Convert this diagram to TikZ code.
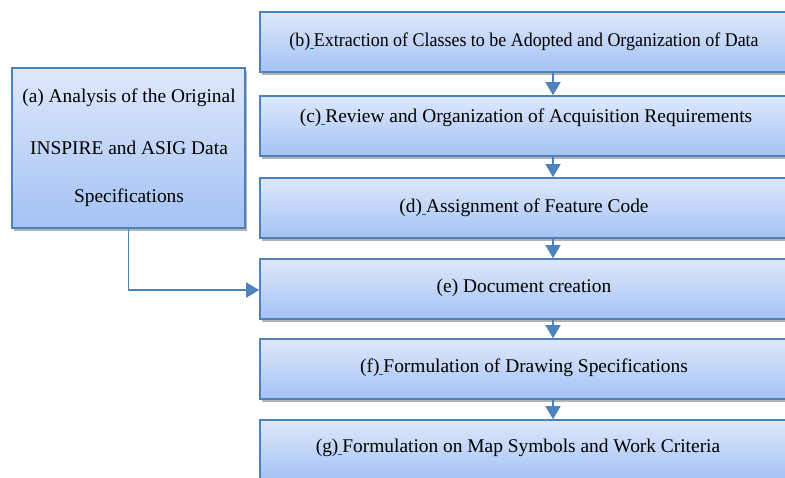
\documentclass[tikz,border=0pt]{standalone}
\usepackage{fontspec}
\setmainfont{Liberation Serif}
\usetikzlibrary{arrows.meta,shadows,calc}
\definecolor{bordblue}{RGB}{79,129,189}
\definecolor{topblue}{RGB}{222,232,251}
\definecolor{botblue}{RGB}{164,194,244}
\definecolor{linkteal}{RGB}{0,110,130}
\newcommand{\ulsp}{\textcolor{linkteal}{\underline{\hspace{4pt}}}}
\tikzset{
  boxstyle/.style={draw=bordblue, line width=1.6pt, top color=topblue, bottom color=botblue,
    drop shadow={shadow xshift=2pt, shadow yshift=-3pt, fill=black!55, opacity=0.55},
    inner sep=0pt},
  rbox/.style={boxstyle, minimum width=528pt, minimum height=60pt},
  lbox/.style={boxstyle, minimum width=233pt, minimum height=160pt},
  txt/.style={font=\fontsize{19.4}{22}\selectfont, text=black, inner sep=0pt},
  arr/.style={draw=bordblue, line width=1.6pt, -{Triangle[width=15pt,length=13pt]}}
}
\begin{document}
\begin{tikzpicture}[x=1pt,y=-1pt]
\useasboundingbox (0,0) rectangle (785,477);
\clip (0,0) rectangle (785,477);
\node[rbox] (b) at (524,42) {};
\node[rbox] (c) at (524,126) {};
\node[rbox] (d) at (524,208) {};
\node[rbox] (e) at (524,289) {};
\node[rbox] (f) at (524,369) {};
\node[rbox] (g) at (524,450) {};
\node[lbox] (a) at (128.5,148) {};
\node[txt] (ta1) at (129,98) {(a) Analysis of the Original};
\node[txt] (ta2) at (129,148) {INSPIRE and ASIG Data};
\node[txt] (ta3) at (129,198) {Specifications};
\node[txt] (tb) at (524,42) {\scalebox{0.925}[1]{(b)\ulsp Extraction of Classes to be Adopted and Organization of Data}};
\node[txt] (tc) at (526,118) {(c)\ulsp Review and Organization of Acquisition Requirements};
\node[txt] (td) at (524,208) {(d)\ulsp Assignment of Feature Code};
\node[txt] (te) at (524,288) {(e) Document creation};
\node[txt] (tf) at (524,368) {(f)\ulsp Formulation of Drawing Specifications};
\node[txt] (tg) at (518,448) {(g)\ulsp Formulation on Map Symbols and Work Criteria};
\coordinate (ax) at (553,0);
\coordinate (bend) at (128.5,290);
\draw[arr] (b.south -| ax) -- (c.north -| ax);
\draw[arr] (c.south -| ax) -- (d.north -| ax);
\draw[arr] (d.south -| ax) -- (e.north -| ax);
\draw[arr] (e.south -| ax) -- (f.north -| ax);
\draw[arr] (f.south -| ax) -- (g.north -| ax);
\draw[arr] (a.south) -- (bend) -- (bend -| e.west);
\end{tikzpicture}
\end{document}
